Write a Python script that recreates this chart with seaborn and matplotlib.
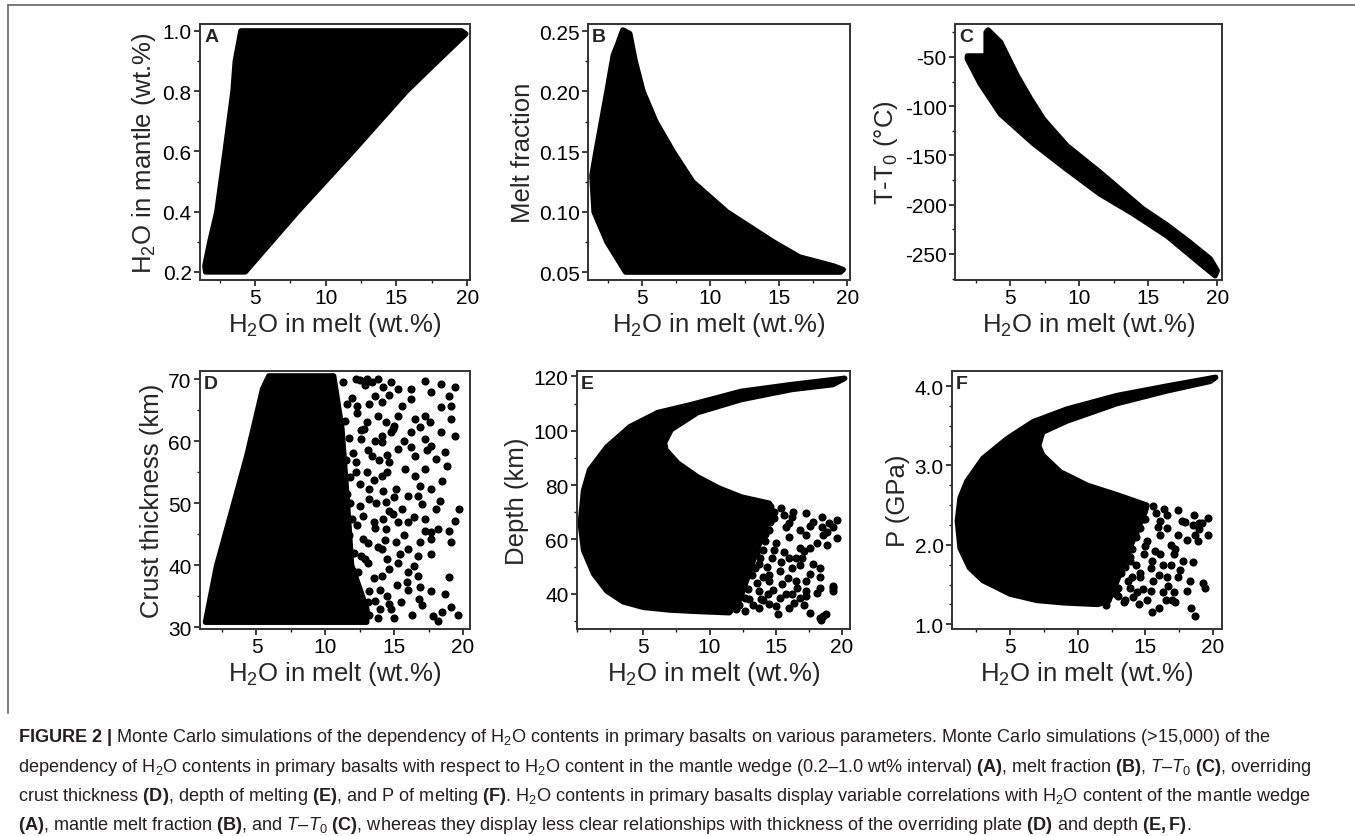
"""
Monte Carlo H2O-in-melt panels (A-F) with the figure caption underneath.
"""
import matplotlib
matplotlib.use("Agg")
import matplotlib.pyplot as plt
import seaborn as sns
from matplotlib.lines import Line2D
from matplotlib.ticker import MultipleLocator, FormatStrFormatter

# ---- data ----------------------------------------------------------------
# dense clouds are given as their outline, loose points one by one

# A: H2O in mantle vs H2O in melt
a_edge_x = [1.5, 4.3, 8.0, 11.9, 15.7, 17.9, 19.9, 19.6, 13.0, 4.0, 3.6, 3.44, 2.88, 2.3, 1.8, 1.45]
a_edge_y = [0.2, 0.2, 0.4, 0.6, 0.8, 0.9, 0.99, 1.0, 1.0, 1.0, 0.9, 0.8, 0.6, 0.4, 0.3, 0.22]

# B: melt fraction
b_edge_x = [3.6, 4.1, 4.5, 5.07, 6.0, 7.27, 8.7, 11.2, 14.6, 16.5, 19.0, 19.7, 19.5, 3.8,
            2.44, 1.5, 1.34, 1.64, 2.44, 2.9, 3.25]
b_edge_y = [0.251, 0.248, 0.225, 0.2, 0.175, 0.15, 0.125, 0.1, 0.075, 0.0625, 0.055, 0.052, 0.05, 0.05,
            0.075, 0.1, 0.13, 0.15, 0.2, 0.23, 0.24]

# C: T - T0
c_edge_x = [3.4, 4.3, 5.5, 6.45, 7.4, 9.1, 11.5, 14.6, 16.4, 18.0, 19.5, 20.0,
            19.85, 18.8, 16.4, 13.9, 11.5, 9.1, 6.7, 4.3, 2.83, 1.9, 1.9, 3.26, 3.26]
c_edge_y = [-22.6, -35, -69, -92, -113, -140, -167, -204, -221, -238, -255, -267,
            -272, -260, -232, -209, -189, -164, -138, -108, -77, -52, -49, -49, -25]

# D: crust thickness
d_edge_x = [1.3, 2.1, 3.3, 4.3, 5.45, 5.9, 10.6, 11.2, 11.6, 11.9, 13.0, 13.0]
d_edge_y = [30.8, 39.8, 49.5, 57.6, 68.4, 70.5, 70.5, 62, 50, 40, 33, 30.8]
d_pts_x = [17.2, 18.4, 19.4, 16.2, 17.7, 19.0, 19.1, 18.4, 19.1, 19.4, 18.4, 17.7, 18.7, 18.0,
           18.5, 19.7, 19.4, 19.0, 19.1, 18.2, 17.7, 17.2, 16.9, 17.7, 18.3, 17.7, 16.9, 16.7,
           17.2, 17.7, 19.0, 18.7, 17.7, 16.9, 16.4, 16.7, 16.0, 16.0, 15.6, 16.5, 17.2, 16.5,
           17.2, 16.2, 16.5, 17.2, 15.6, 16.2, 15.3, 14.8, 13.8, 13.0, 12.2, 14.1, 15.3, 14.8,
           14.1, 15.3, 14.6, 15.8, 14.1, 15.1, 16.0, 14.4, 15.3, 14.4, 15.1, 14.1, 15.3, 14.6,
           16.0, 16.7, 13.1, 13.5, 13.2, 13.4, 13.0, 13.6, 12.3, 12.6, 12.2, 12.5, 12.7, 12.4,
           12.9, 12.8, 13.0, 12.7, 12.9, 13.1, 13.8, 13.9, 13.7, 13.8, 14.0, 11.9, 12.0, 11.8,
           12.1, 12.0, 13.2, 14.0, 15.0, 15.5, 16.3, 17.0, 17.8, 18.5, 19.1, 14.5, 16.0, 13.6,
           18.2, 19.6, 12.6, 16.8, 14.6, 15.0, 14.5, 15.7, 14.9, 15.7, 14.2, 15.9, 14.8, 15.2,
           16.9, 17.6, 18.0, 18.8, 17.4, 16.2, 16.4, 17.0,
           11.3, 11.6, 11.4, 11.7, 11.5, 11.8, 11.6, 11.9, 11.7, 12.0, 11.9, 12.2, 12.5, 12.3,
           12.6, 12.2, 12.5, 12.3, 12.6, 12.3, 13.4, 13.2, 13.6, 13.1, 13.5, 13.2, 13.6, 13.1,
           13.5, 13.2, 14.2, 14.4, 14.1, 14.5, 14.2, 14.6, 14.3, 14.5, 14.1, 14.6, 11.2, 11.8,
           12.9, 13.8, 14.9, 15.0, 15.4]
d_pts_y = [69.7, 69.2, 68.7, 68.4, 67.9, 67.3, 65.7, 65.5, 63.5, 60.8, 61.5, 59.2, 58.2, 57.1,
           53.5, 49.0, 47.1, 45.5, 43.7, 45.8, 45.3, 45.5, 43.7, 44.2, 50.3, 52.3, 52.7, 51.2,
           47.4, 41.8, 38.1, 35.3, 35.8, 36.4, 39.8, 41.5, 42.6, 46.9, 49.0, 54.4, 55.5, 57.6,
           60.3, 61.5, 63.5, 64.0, 65.7, 66.8, 68.4, 69.5, 70.0, 70.0, 70.0, 66.3, 64.0, 61.5,
           59.8, 58.7, 56.6, 55.5, 54.4, 52.3, 51.2, 50.1, 46.9, 45.8, 43.7, 42.6, 40.4, 39.4,
           38.9, 38.3, 40.4, 46.9, 52.3, 57.6, 63.0, 67.3, 65.7, 60.3, 55.0, 49.5, 44.2, 38.9,
           69.0, 62.0, 55.0, 48.0, 41.0, 34.0, 64.0, 57.0, 50.0, 43.0, 36.0, 67.0, 58.0, 50.0,
           42.0, 35.0, 32.0, 33.0, 31.5, 34.0, 32.0, 33.5, 31.8, 32.5, 33.2, 35.0, 36.0, 34.2,
           31.0, 32.0, 31.5, 34.5, 67.5, 62.5, 57.8, 60.0, 48.2, 44.8, 47.5, 37.2, 33.0, 36.8,
           62.2, 63.0, 49.0, 56.0, 58.5, 59.0, 47.8, 49.9,
           69.5, 66.0, 63.2, 60.5, 57.0, 54.2, 51.5, 47.5, 44.8, 39.0, 37.2, 33.2, 69.8, 64.5,
           61.8, 56.6, 53.0, 46.5, 41.5, 36.5, 69.6, 66.0, 60.0, 58.6, 53.8, 50.6, 46.0, 43.5,
           38.0, 35.8, 68.8, 63.0, 60.8, 55.0, 52.0, 48.8, 44.0, 41.0, 38.2, 33.8, 31.8, 32.5,
           32.8, 31.5, 62.0, 51.0, 41.8]

# E: depth of melting
e_edge_x = [11.5, 9.0, 7.0, 5.0, 3.5, 2.25, 1.25, 0.5, 0.25, 0.5, 0.95, 2.25, 4.0, 6.1, 8.6,
            12.4, 16.2, 20.2, 19.3, 16.2, 12.4, 9.1, 7.1, 6.6, 6.7, 7.6, 9.1, 10.7, 12.4, 14.5,
            14.7, 14.2, 13.5, 12.8, 12.3]
e_edge_y = [33.0, 33.5, 34.0, 35.0, 37.0, 41.0, 47.4, 56.0, 66.0, 78.0, 85.6, 94.0, 101.5, 106.7,
            109.6, 114.5, 117.0, 119.3, 117.0, 115.2, 111.5, 106.7, 100.4, 95.6, 93.0, 88.1, 83.0,
            78.9, 75.6, 73.3, 72.0, 64.0, 55.0, 45.0, 38.0]
e_pts_x = [15.4, 16.2, 17.3, 18.5, 19.6, 19.3, 18.5, 19.6, 18.9, 18.1, 17.3, 16.8, 16.0, 16.8,
           16.0, 17.0, 17.8, 18.3, 17.6, 17.3, 18.3, 19.3, 19.3, 18.1, 17.3, 16.2, 15.3, 15.5,
           15.3, 14.7, 15.0, 14.5, 16.0, 16.2, 16.5, 14.5, 13.7, 13.7, 13.2, 13.7, 13.0, 12.7,
           17.6, 16.5, 19.3, 18.3, 17.3, 16.8, 15.8, 14.5, 16.0, 13.7, 12.7, 18.8, 18.3, 17.6,
           15.2, 18.4, 18.6, 12.8, 13.3, 12.9, 13.5, 12.6, 13.2, 12.4, 13.0, 12.2, 14.1, 14.2,
           14.0, 14.3, 14.0, 14.4, 15.8, 14.9, 15.6, 16.8, 14.8, 13.9, 16.4, 17.1, 19.0, 17.8,
           18.6,
           14.9, 14.3, 15.6, 13.6, 14.6, 13.0, 14.2, 13.4, 13.8, 12.9, 14.9, 13.4, 12.5, 14.5,
           13.6, 12.9, 12.7, 14.0, 13.3, 12.0, 15.0, 15.9, 16.6, 15.4, 17.1, 17.6, 18.9, 16.3]
e_pts_y = [71.5, 68.1, 69.6, 68.1, 67.0, 64.4, 64.4, 60.4, 57.8, 58.5, 61.5, 63.3, 66.0, 57.0,
           53.3, 53.3, 51.1, 49.6, 47.4, 44.8, 46.0, 43.0, 41.1, 40.4, 39.3, 40.0, 38.5, 43.7,
           48.5, 53.3, 58.5, 63.3, 60.7, 49.6, 44.8, 44.8, 41.1, 51.1, 58.5, 66.0, 71.9, 48.5,
           57.0, 53.3, 42.2, 42.2, 41.0, 38.5, 40.0, 36.3, 34.8, 34.8, 33.7, 32.6, 31.1, 33.0,
           32.6, 30.2, 31.8, 68.0, 64.0, 60.0, 55.0, 52.0, 47.0, 44.0, 38.0, 36.0, 69.0, 62.0,
           56.0, 50.0, 46.0, 40.0, 64.5, 67.8, 55.5, 50.5, 41.5, 38.0, 36.5, 36.0, 66.0, 66.5,
           61.5,
           70.2, 71.0, 69.0, 68.5, 66.5, 65.8, 59.5, 61.5, 53.0, 56.5, 56.2, 49.5, 46.5, 47.0,
           44.0, 41.8, 38.5, 37.5, 35.8, 34.2, 35.5, 45.8, 42.0, 51.8, 55.8, 65.0, 62.8, 70.0]

# F: pressure of melting
f_edge_x = [11.5, 9.0, 7.0, 5.0, 3.0, 2.0, 1.3, 1.1, 1.3, 1.8, 3.0, 4.8, 6.7, 9.2, 12.9, 16.6,
            20.2, 19.8, 16.6, 12.9, 9.2, 7.4, 7.1, 7.4, 8.7, 10.7, 12.9, 15.1, 15.0, 14.3, 13.5,
            12.8, 12.3]
f_edge_y = [1.25, 1.27, 1.30, 1.38, 1.55, 1.71, 1.96, 2.30, 2.59, 2.80, 3.09, 3.34, 3.55, 3.71,
            3.88, 4.00, 4.11, 4.06, 3.94, 3.78, 3.56, 3.42, 3.25, 3.13, 2.92, 2.75, 2.63, 2.50,
            2.42, 2.15, 1.80, 1.50, 1.30]
f_pts_x = [15.6, 16.6, 17.4, 18.6, 19.6, 19.2, 18.5, 19.6, 18.9, 18.1, 17.4, 16.6, 16.1, 16.9,
           16.1, 17.1, 17.8, 18.5, 17.6, 17.4, 18.3, 19.3, 19.4, 18.1, 17.1, 16.3, 15.4, 15.6,
           15.4, 14.9, 15.1, 14.6, 16.1, 16.3, 16.6, 14.6, 13.9, 13.9, 13.4, 13.9, 13.1, 18.4,
           18.7, 16.0, 14.5, 17.0, 13.5, 15.5, 12.8, 13.3, 12.9, 13.5, 12.6, 13.2, 12.4, 13.0,
           12.2, 14.1, 14.2, 14.0, 14.3, 14.0, 14.4, 15.9, 15.0, 15.7, 16.9, 14.8, 16.5, 17.2,
           19.0, 17.9, 18.7,
           14.9, 14.4, 15.8, 13.7, 14.8, 13.1, 14.3, 13.5, 13.9, 13.0, 15.0, 13.5, 12.6, 14.6,
           13.7, 13.0, 12.8, 14.1, 13.4, 12.1, 15.1, 16.0, 16.7, 15.5, 17.2, 17.7, 19.0, 16.4]
f_pts_y = [2.49, 2.38, 2.44, 2.38, 2.34, 2.28, 2.25, 2.13, 2.05, 2.06, 2.13, 2.21, 2.30, 2.00,
           1.88, 1.88, 1.80, 1.78, 1.68, 1.59, 1.55, 1.52, 1.46, 1.42, 1.40, 1.40, 1.42, 1.55,
           1.71, 1.88, 2.05, 2.21, 2.13, 1.75, 1.59, 1.59, 1.46, 1.80, 2.05, 2.30, 2.50, 1.20,
           1.10, 1.20, 1.25, 1.30, 1.30, 1.15, 2.40, 2.25, 2.10, 1.90, 1.80, 1.65, 1.50, 1.35,
           1.30, 2.40, 2.15, 1.95, 1.75, 1.60, 1.40, 2.22, 2.33, 1.92, 1.74, 1.45, 1.30, 1.28,
           2.27, 2.29, 2.12,
           2.47, 2.45, 2.40, 2.38, 2.32, 2.30, 2.10, 2.15, 1.85, 1.98, 1.98, 1.72, 1.62, 1.65,
           1.55, 1.46, 1.38, 1.34, 1.28, 1.24, 1.30, 1.62, 1.48, 1.80, 1.95, 2.30, 2.20, 2.45]

# ---- look ----------------------------------------------------------------
sns.set_theme(style="ticks")
plt.rcParams["font.family"] = ["Liberation Sans", "DejaVu Sans"]
plt.rcParams["mathtext.fontset"] = "custom"
plt.rcParams["mathtext.rm"] = "Liberation Sans"
plt.rcParams["mathtext.it"] = "Liberation Sans:italic"
plt.rcParams["mathtext.bf"] = "Liberation Sans:bold"
plt.rcParams["axes.unicode_minus"] = False

W, H = 1355, 837
INK = "#1a1a1a"
fig = plt.figure(figsize=(W / 100, H / 100), dpi=100)


def px_axes(left, right, top, bottom):
    """Add axes from pixel edges of the reference picture."""
    return fig.add_axes([left / W, 1 - bottom / H, (right - left) / W, (bottom - top) / H])


def style(ax, xlim, ylim, yticks, yminor, yfmt, ylabel, letter):
    ax.set_xlim(*xlim)
    ax.set_ylim(*ylim)
    ax.set_xticks([5, 10, 15, 20])
    ax.xaxis.set_minor_locator(MultipleLocator(2.5))
    ax.set_yticks(yticks)
    ax.yaxis.set_minor_locator(MultipleLocator(yminor))
    ax.yaxis.set_major_formatter(FormatStrFormatter(yfmt))
    ax.tick_params(which="both", direction="out", top=False, right=False,
                   colors=INK, labelsize=15, labelcolor="black")
    ax.tick_params(which="major", length=4.5, width=1.2, pad=1.5)
    ax.tick_params(which="minor", length=2.5, width=1.0)
    for sp in ax.spines.values():
        sp.set_visible(True)
        sp.set_linewidth(1.4)
        sp.set_color("#333333")
    ax.set_xlabel("H$_2$O in melt (wt.%)", fontsize=18.5, labelpad=2)
    ax.set_ylabel(ylabel, fontsize=18.5, labelpad=3)
    ax.text(0.015, 0.985, letter, transform=ax.transAxes, ha="left", va="top",
            fontsize=14, fontweight="bold", zorder=6)


def cloud(ax, ex, ey, px=None, py=None):
    ax.fill(ex, ey, facecolor="black", edgecolor="black", linewidth=4,
            joinstyle="round", zorder=2)
    if px is not None:
        sns.scatterplot(x=px, y=py, ax=ax, color="black", s=34, linewidth=0,
                        legend=False, zorder=3)


ax_a = px_axes(200, 470, 25, 281)
cloud(ax_a, a_edge_x, a_edge_y)
style(ax_a, (1.1, 20.2), (0.173, 1.023), [0.2, 0.4, 0.6, 0.8, 1.0], 0.1, "%.1f",
      "H$_2$O in mantle (wt.%)", "A")

ax_b = px_axes(588, 850, 25, 281)
cloud(ax_b, b_edge_x, b_edge_y)
style(ax_b, (1.05, 20.2), (0.0434, 0.256), [0.05, 0.10, 0.15, 0.20, 0.25], 0.025, "%.2f",
      "Melt fraction", "B")

ax_c = px_axes(955, 1222, 25, 281)
cloud(ax_c, c_edge_x, c_edge_y)
style(ax_c, (1.0, 20.35), (-276.4, -16.5), [-250, -200, -150, -100, -50], 25, "%d",
      "T-T$_0$ (°C)", "C")

ax_d = px_axes(200, 470, 372, 630)
cloud(ax_d, d_edge_x, d_edge_y, d_pts_x, d_pts_y)
style(ax_d, (0.9, 20.5), (29.7, 71.3), [30, 40, 50, 60, 70], 5, "%d",
      "Crust thickness (km)", "D")

ax_e = px_axes(577, 850, 372, 630)
cloud(ax_e, e_edge_x, e_edge_y, e_pts_x, e_pts_y)
style(ax_e, (0.0, 20.6), (27.0, 122.0), [40, 60, 80, 100, 120], 10, "%d",
      "Depth (km)", "E")

ax_f = px_axes(952, 1222, 372, 630)
cloud(ax_f, f_edge_x, f_edge_y, f_pts_x, f_pts_y)
style(ax_f, (0.7, 20.67), (0.94, 4.19), [1.0, 2.0, 3.0, 4.0], 0.25, "%.1f",
      "P (GPa)", "F")

# frame around the artwork (only top and left edges show in the crop)
frame = dict(color="#666666", linewidth=1.2)
fig.add_artist(Line2D([8 / W, 1.0], [1 - 6 / H, 1 - 6 / H], **frame))
fig.add_artist(Line2D([8 / W, 8 / W], [1 - 6 / H, 1 - 714 / H], **frame))

# caption
caption_lines = [
    r"$\mathbf{FIGURE\ 2\ |}$ Monte Carlo simulations of the dependency of H$_2$O contents in primary "
    r"basalts on various parameters. Monte Carlo simulations (>15,000) of the",
    r"dependency of H$_2$O contents in primary basalts with respect to H$_2$O content in the mantle "
    r"wedge (0.2–1.0 wt% interval) $\mathbf{(A)}$, melt fraction $\mathbf{(B)}$, "
    r"$\mathit{T}$–$\mathit{T}_0$ $\mathbf{(C)}$, overriding",
    r"crust thickness $\mathbf{(D)}$, depth of melting $\mathbf{(E)}$, and P of melting "
    r"$\mathbf{(F)}$. H$_2$O contents in primary basalts display variable correlations with "
    r"H$_2$O content of the mantle wedge",
    r"$\mathbf{(A)}$, mantle melt fraction $\mathbf{(B)}$, and $\mathit{T}$–$\mathit{T}_0$ "
    r"$\mathbf{(C)}$, whereas they display less clear relationships with thickness of the "
    r"overriding plate $\mathbf{(D)}$ and depth $\mathbf{(E,F)}$.",
]
caption_y = [738, 768, 797, 826]
for line, y in zip(caption_lines, caption_y):
    fig.text(18 / W, 1 - y / H, line, ha="left", va="center", fontsize=13.1, color="#231f20")

fig.savefig("out.png", dpi=100)
plt.close(fig)
